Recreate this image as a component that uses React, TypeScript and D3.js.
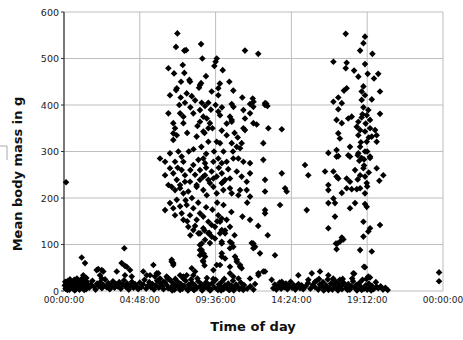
import React from "react";
import * as d3 from "d3";

// hour of day, mean body mass (g)
const nightBand: [number, number][] = [
  [0.05,12],[0.1,5],[0.15,18],[0.2,9],[0.25,22],[0.3,14],[0.35,3],[0.4,17],[0.45,10],[0.5,20],[0.55,6],[0.6,15],[0.65,24],[0.7,11],[0.75,4],[0.8,19],[0.85,13],[0.9,8],[0.95,21],[1.0,15],[1.05,6],[1.1,18],[1.15,11],[1.2,24],[1.25,9],[1.3,16],[1.4,4],[1.45,20],[1.5,12],[1.6,7],
  [1.7,14],[1.8,22],[1.9,9],[2.0,3],[2.1,16],[2.2,11],[2.3,19],[2.4,6],[2.5,13],[2.6,25],[2.7,8],[2.8,17],[2.9,4],[3.0,12],[3.1,21],[3.2,7],[3.3,15],[3.4,10],[3.5,19],[3.6,5],[3.7,14],[3.8,23],[3.9,9],[4.0,16],[4.1,3],[4.2,12],[4.3,20],[4.4,7],[4.5,15],[4.6,10],[4.7,4],[4.8,18],[4.9,8],[5.0,14],[5.1,24],[5.2,5],[5.3,11],[5.4,19],[5.5,8],[5.6,15],[5.7,3],[5.8,12],[5.9,22],[6.0,7],[6.1,16],[6.2,10],[6.3,4],[6.4,19],[6.5,13],[6.6,6],[6.7,24],[6.8,9],[6.9,17],[7.0,3],[7.1,12],[7.2,20],[7.3,7],[7.4,15],[7.5,5],[7.6,11],[7.7,22],[7.8,4],[7.9,14],[8.0,8],[8.1,18],[8.2,3],[8.3,12],[8.4,6],[8.5,21],[8.6,9],[8.7,15],[8.8,4],[8.9,11],[9.0,19],[9.1,6],[9.2,13],[9.3,3],[9.4,17],[9.5,8],[9.6,24],[9.7,5],[9.8,14],[9.9,10],[10.0,20],[10.1,4],[10.2,12],[10.3,7],[10.4,16],[10.5,3],[10.6,11],[10.7,22],[10.8,6],[10.9,14],[11.0,9],[11.1,4],[11.2,18],[11.3,8],[11.4,13],[11.6,5],[11.8,10],[12.0,3],[12.1,15],
  [13.25,6],[13.35,14],[13.45,3],[13.55,10],[13.65,18],[13.75,5],[13.85,12],[13.95,8],[14.05,16],[14.15,4],[14.25,11],[14.35,20],[14.45,7],[14.55,13],[14.65,3],[14.75,9],[14.85,15],[14.95,6],[15.05,12],[15.15,4],[15.3,10],[15.45,17],[15.6,5],[15.75,13],[15.9,8],[16.0,22],[16.1,3],[16.2,14],[16.3,9],[16.4,19],[16.5,5],[16.6,12],[16.7,25],[16.8,7],[16.9,16],[17.0,3],[17.1,11],[17.2,20],[17.3,6],[17.4,14],[17.5,9],[17.6,4],[17.7,18],[17.8,12],[17.9,6],[18.0,15],[18.1,3],[18.2,10],[18.3,21],[18.4,7],[18.5,13],[18.6,4],[18.7,17],[18.8,9],[18.9,24],[19.0,5],[19.1,12],[19.2,3],[19.3,16],[19.4,8],[19.5,11],[19.6,4],[19.75,19],[19.9,6],[20.05,10],[20.2,3],[20.35,7],[20.5,2],
  [0.08,20],[0.22,2],[0.38,25],[0.52,13],[0.68,1],[0.82,27],[0.98,3],[1.12,26],[1.28,2],[1.42,28],
  [6.55,28],[6.85,1],[7.05,26],[7.35,2],[7.55,27],[7.85,1],[8.05,25],[8.25,2],[8.45,27],[8.75,1],[9.05,28],[9.25,1],[9.45,26],[9.75,2],[9.95,1],[10.15,26],[10.45,2],[10.75,1],[11.05,27],[11.35,2],
  [16.15,26],[16.45,1],[16.75,2],[17.05,27],[17.35,1],[17.65,26],[17.95,2],[18.25,27],[18.55,1],[18.85,2],[19.15,26],[19.45,1],
];

const lowScatter: [number, number][] = [
  [1.12,72],[1.33,60],[1.22,34],[2.07,45],[2.39,45],[2.28,34],[2.39,27],[3.82,92],[3.65,60],[3.97,52],[4.18,45],[3.34,42],[3.86,34],[4.29,31],[2.17,47],[2.49,42],[3.86,54],[5.02,42],[5.24,34],[5.66,56],[5.45,34],[5.97,38],[5.76,31],[6.08,27],[6.5,31],[6.71,24],[5.87,38],[6.29,20],[6.82,67],[6.92,60],[7.35,34],[7.56,31],[8.09,49],[8.3,42],[7.77,34],
  [8.72,102],[8.61,88],[8.61,77],[8.85,80],[8.8,65],[8.9,55],[8.82,63],[8.93,74],[9.46,45],[9.67,56],[9.99,74],[9.99,102],[10.51,106],[10.72,95],[10.83,74],[10.94,67],[10.51,38],[10.72,31],[11.15,52],[11.99,102],[12.1,95],[12.41,81],[12.31,38],[12.73,42],[13.36,77],[13.15,24],[13.79,20],[14.84,34],[15.69,38],[16.21,42],[16.74,34],[15.47,24],[15.9,20],[17.22,102],[18.32,38],[19.0,52],[19.27,31],[17.06,24],[17.47,24],[17.69,17],[19.8,9],
  [9.99,81],[10.2,70],[9.88,56],[10.51,52],[11.15,56],[11.25,49],[6.82,63],[6.92,56],[6.61,27],[8.19,34],[12.62,42],[12.31,34],[11.78,27],[10.94,63],
];

const morningCluster: [number, number][] = [
  [7.18,554],[7.09,525],[7.73,518],[7.62,517],[8.68,531],[8.76,500],[9.67,500],[9.6,493],[9.52,484],[11.46,517],[12.3,510],
  [6.61,479],[6.97,468],[7.52,486],[7.62,469],[7.94,454],[7.98,450],[7.41,450],[7.14,436],[7.1,432],[6.71,421],[7.39,416],[7.77,425],[8.09,419],[8.61,443],[8.68,447],[8.55,437],[8.99,462],[9.35,429],[9.77,436],[9.87,446],[10.05,475],[9.77,421],[10.47,450],[10.72,431],[11.29,416],[11.95,414],[12.0,407],[12.73,404],[12.8,403],
  [7.66,405],[8.72,405],[8.93,398],[9.14,405],[10.62,402],[10.73,396],[11.78,402],[11.99,396],[12.73,400],[12.88,398],
  [6.61,382],[7.35,382],[7.56,375],[8.19,382],[8.61,389],[8.82,375],[9.04,371],[9.77,386],[9.88,378],[10.51,375],[10.62,368],[11.36,389],[11.46,371],[11.78,382],
  [6.92,361],[7.03,350],[6.92,339],[7.56,361],[8.61,364],[9.24,361],[9.14,350],[9.99,345],[10.62,364],[11.36,350],[11.46,346],[11.99,361],[12.2,358],[12.94,350],[13.79,348],
  [7.14,335],[6.92,325],[8.4,332],[8.82,343],[9.14,321],[9.67,321],[9.88,318],[10.3,335],[10.62,318],[10.94,310],[11.15,307],[11.25,318],[12.62,318],
  [6.08,285],[6.4,278],[6.71,296],[7.24,300],[7.45,289],[7.03,278],[7.56,278],[8.19,271],[8.51,282],[8.82,285],[8.93,275],[9.46,278],[9.77,285],[9.99,275],[10.3,278],[10.72,285],[11.04,285],[11.36,278],[11.78,275],[12.62,282],
  [6.71,264],[6.92,253],[7.45,260],[7.66,249],[7.14,239],[7.98,235],[8.61,260],[8.93,249],[9.14,239],[9.35,257],[9.67,246],[9.99,253],[10.09,235],[10.51,242],[10.94,257],[11.25,246],[11.57,235],[11.78,253],[12.73,239],[13.79,253],
  [6.61,228],[7.03,217],[7.35,221],[7.56,210],[7.87,214],[8.4,224],[8.82,217],[9.04,206],[9.46,224],[9.67,210],[10.09,217],[10.51,221],[11.04,206],[11.57,217],[12.73,214],[14.0,221],[14.1,214],
  [6.4,249],[6.82,224],[7.35,228],[7.66,235],[8.4,228],[8.61,239],[8.82,246],[9.24,232],[9.46,242],[9.99,232],[10.2,239],[10.62,210],[11.15,217],[11.78,203],
  [6.4,174],[6.71,189],[6.92,178],[7.14,196],[7.35,182],[7.45,167],[7.77,185],[7.98,163],[8.19,178],[8.4,153],[8.61,167],[8.82,160],[9.14,149],[9.35,142],[9.56,138],[9.77,163],[9.99,156],[10.3,153],[10.51,138],[11.78,153],[12.73,174],[12.73,167],[13.68,185],
  [7.03,163],[7.56,153],[7.87,138],[8.19,131],[8.51,124],[8.82,135],[9.14,124],[9.35,117],[9.88,149],[9.99,131],[10.2,124],
  [8.61,124],[8.93,110],[9.24,103],[9.56,113],[9.88,124],[9.99,106],[10.62,103],[10.51,92],[11.89,103],[11.99,92],[8.61,99],[8.72,88],
  [7.3,400],[8.0,395],[8.3,410],[8.45,355],[8.9,340],[9.3,390],[9.4,350],[9.6,400],[10.0,395],[10.3,360],[10.8,340],[11.0,330],[7.8,340],[7.9,300],[8.2,305],[8.7,310],[9.0,295],[9.5,300],[10.1,300],[10.7,300],[7.2,265],[8.0,260],[8.3,250],[9.0,265],[9.8,265],[10.4,262],
  [7.7,195],[8.1,200],[8.5,190],[9.0,180],[9.4,175],[9.7,190],[10.1,185],[10.6,170],[8.3,140],[8.9,130],[9.2,125],[9.7,150],[10.2,130],[7.8,150],[8.0,120],[10.8,120],[11.3,160],[11.6,190],[12.3,140],[12.9,120],
];

const eveningCluster: [number, number][] = [
  [17.84,553],[19.06,547],[18.96,533],[18.75,517],[19.53,510],[17.06,493],[17.9,491],[17.84,479],[19.06,488],[18.37,474],[18.64,461],[19.23,467],[19.9,467],[19.63,457],[17.9,436],[17.73,431],[18.96,440],[18.85,429],[19.06,421],[20.01,429],[17.06,407],[17.37,416],[17.59,404],[17.37,391],[18.85,411],[19.49,412],[18.96,395],[19.27,389],[20.01,381],[17.26,368],[17.59,361],[18.0,371],[18.22,375],[18.64,364],[18.85,373],[19.17,378],[19.38,368],
  [18.54,353],[18.75,346],[18.64,335],[19.06,343],[19.38,350],[19.7,346],[19.8,335],[19.49,332],
  [17.37,339],[17.47,328],[19.17,321],[18.75,310],[19.8,321],[16.74,297],[17.26,303],[17.26,289],[18.0,292],[18.11,310],[18.64,296],[19.06,300],[19.38,289],
  [15.26,271],[15.47,249],[17.37,290],[18.11,289],[18.6,292],[18.85,286],[19.0,283],[19.38,286],[16.53,257],[17.06,257],[17.26,246],[17.37,242],[17.9,242],[18.11,235],[18.43,260],[18.96,264],[18.75,249],[19.06,246],[19.17,232],[19.8,264],[20.22,249],[19.97,237],
  [16.74,228],[16.74,217],[17.59,211],[17.9,221],[18.22,219],[18.54,219],[18.75,221],[19.06,210],[17.06,199],[17.16,189],[16.74,189],[18.43,189],[18.11,178],[19.06,187],[19.17,181],[15.37,174],[17.16,160],[16.74,135],[18.96,149],[19.38,135],[19.27,128],[20.01,142],[18.96,117],[17.59,115],[17.69,111],[17.47,106],[17.31,102],[17.26,90],[18.75,88],[19.49,85],[19.06,51],[18.38,37],[19.38,29],
  [18.9,380],[19.1,360],[19.3,330],[18.8,320],[19.2,300],[18.7,280],[19.0,270],[19.3,255],[18.6,240],[19.2,225],
];

const outliers: [number, number][] = [[0.13,234],[23.75,40],[23.75,21]];

const xTicks = [0, 4.8, 9.6, 14.4, 19.2, 24];
const xTickLabels = ["00:00:00", "04:48:00", "09:36:00", "14:24:00", "19:12:00", "00:00:00"];
const yTicks = [0, 100, 200, 300, 400, 500, 600];

const W = 463, H = 340;
const font = "'DejaVu Sans', Verdana, sans-serif";

export default function App() {
  const x = d3.scaleLinear().domain([0, 24]).range([64, 443]);
  const y = d3.scaleLinear().domain([0, 600]).range([291, 12]);
  const all = [...nightBand, ...lowScatter, ...morningCluster, ...eveningCluster, ...outliers];
  const diamond = "M0,-3.3L3.3,0L0,3.3L-3.3,0Z";

  return (
    <svg width={W} height={H} style={{ position: "absolute", left: 0, top: 0, background: "#fff" }}>
      {/* grid */}
      {yTicks.map((t) => (
        <line key={"gy" + t} x1={x(0)} x2={x(24)} y1={y(t)} y2={y(t)} stroke="#bdbdbd" strokeWidth={1} />
      ))}
      {xTicks.map((t) => (
        <line key={"gx" + t} x1={x(t)} x2={x(t)} y1={y(600)} y2={y(0)} stroke="#bdbdbd" strokeWidth={1} />
      ))}
      {/* left axis */}
      <line x1={x(0)} x2={x(0)} y1={y(600)} y2={y(0)} stroke="#333" strokeWidth={1.2} />
      {yTicks.map((t) => (
        <g key={"yt" + t}>
          <line x1={x(0) - 3} x2={x(0)} y1={y(t)} y2={y(t)} stroke="#333" />
          <text x={x(0) - 5} y={y(t) + 3.5} textAnchor="end" fontSize={9.5} fontFamily={font} fill="#222">{t}</text>
        </g>
      ))}
      {xTicks.map((t, i) => (
        <text key={"xt" + i} x={x(t)} y={303} textAnchor="middle" fontSize={9} fontFamily={font} fill="#222">{xTickLabels[i]}</text>
      ))}
      {/* points */}
      {all.map((d, i) => (
        <path key={i} d={diamond} transform={`translate(${x(d[0])},${y(d[1])})`} fill="#000" />
      ))}
      {/* titles */}
      <text x={253} y={331} textAnchor="middle" fontSize={13} fontWeight="bold" fontFamily={font} fill="#111">Time of day</text>
      <text transform="translate(22,174) rotate(-90)" textAnchor="middle" fontSize={13} fontWeight="bold" fontFamily={font} fill="#111">Mean body mass in g</text>
      <path d="M0,146H7V160" fill="none" stroke="#aaa" strokeWidth={1} />
    </svg>
  );
}
